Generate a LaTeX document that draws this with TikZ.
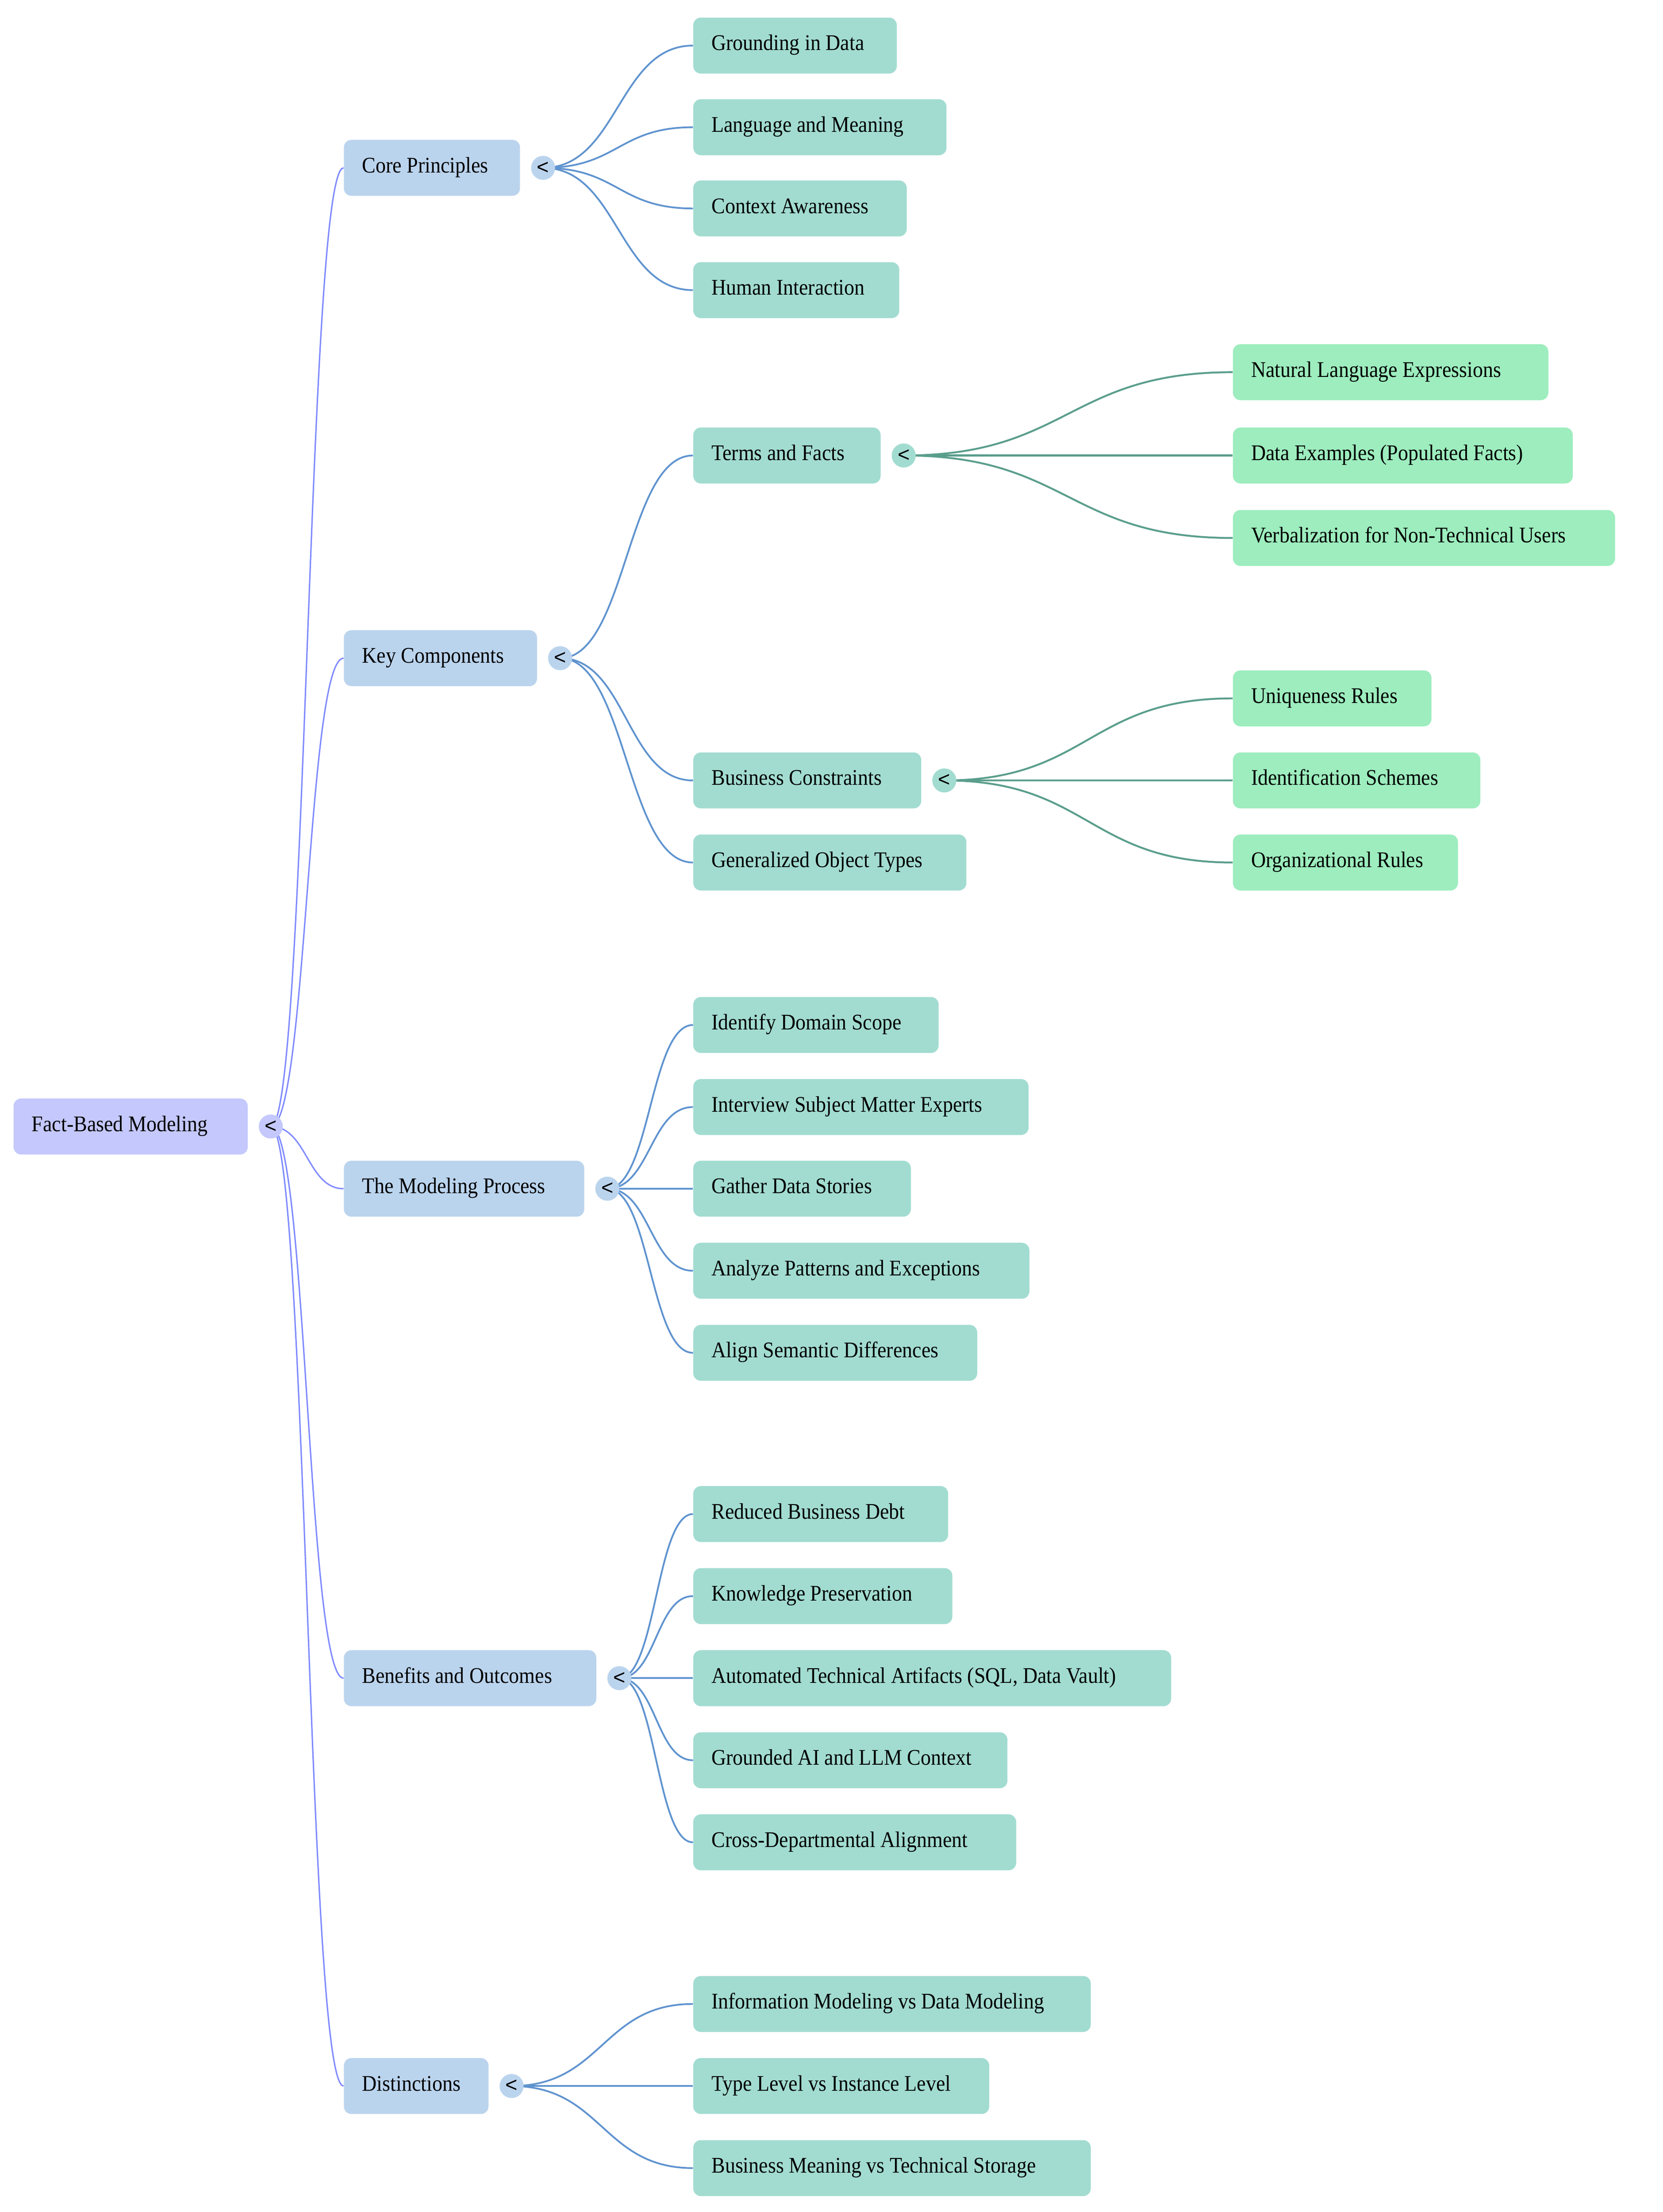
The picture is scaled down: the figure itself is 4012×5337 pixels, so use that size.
\documentclass[tikz,border=0pt]{standalone}
\usepackage{fontspec}
\setmainfont{Liberation Serif}[FakeStretch=0.91]
\newfontfamily\togfont{Liberation Sans}
\usetikzlibrary{calc,backgrounds}
\definecolor{c0}{HTML}{C4C8FC}
\definecolor{c1}{HTML}{BBD4EE}
\definecolor{c2}{HTML}{A2DCD1}
\definecolor{c3}{HTML}{9DEDBE}
\definecolor{ec0}{HTML}{7F8AFF}
\definecolor{ec1}{HTML}{5F93CF}
\definecolor{ec2}{HTML}{5A9E8C}
\newcommand\lbl[2]{\makebox[#1][l]{#2}}
\newcommand\conn[3]{\draw[#1] let \p1=(#2.center), \p2=(#3.west) in (\p1) .. controls ({0.5*\x1+0.5*\x2},\y1) and ({0.5*\x1+0.5*\x2},\y2) .. (\p2);}
\tikzset{x=0.3pt,y=-0.3pt,
  box/.style={rounded corners=5.5pt, inner xsep=13.2pt, inner ysep=0pt, minimum height=40.5pt,
    anchor=west, text height=11pt, text depth=4.1pt, font=\fontsize{16.2}{19}\selectfont},
  n0/.style={box, fill=c0}, n1/.style={box, fill=c1}, n2/.style={box, fill=c2}, n3/.style={box, fill=c3},
  tog/.style={circle, inner sep=0pt, minimum size=17.4pt, font=\togfont\fontsize{15}{15}\selectfont},
  e0/.style={draw=ec0, line width=1pt}, e1/.style={draw=ec1, line width=1.25pt}, e2/.style={draw=ec2, line width=1.35pt}}
\begin{document}
\begin{tikzpicture}
\useasboundingbox (0,0) rectangle (4012,5337);
% root
\node[n0] (root) at (32,2718) {\lbl{143.1pt}{Fact-Based Modeling}};
% level 1
\node[n1] (cp) at (829,405) {\lbl{101.1pt}{Core Principles}};
\node[n1] (kc) at (829,1588) {\lbl{113.4pt}{Key Components}};
\node[n1] (mp) at (829,2868) {\lbl{147.6pt}{The Modeling Process}};
\node[n1] (bo) at (829,4049) {\lbl{156.3pt}{Benefits and Outcomes}};
\node[n1] (di) at (829,5033) {\lbl{78.3pt}{Distinctions}};
% level 2
\node[n2] (cp1) at (1672,110) {\lbl{120.9pt}{Grounding in Data}};
\node[n2] (cp2) at (1672,307) {\lbl{156.9pt}{Language and Meaning}};
\node[n2] (cp3) at (1672,503) {\lbl{128.1pt}{Context Awareness}};
\node[n2] (cp4) at (1672,700) {\lbl{122.7pt}{Human Interaction}};
\node[n2] (tf) at (1672,1099) {\lbl{109.2pt}{Terms and Facts}};
\node[n2] (bc) at (1672,1883) {\lbl{138.6pt}{Business Constraints}};
\node[n2] (go) at (1672,2081) {\lbl{171.3pt}{Generalized Object Types}};
\node[n2] (mp1) at (1672,2473) {\lbl{151.2pt}{Identify Domain Scope}};
\node[n2] (mp2) at (1672,2671) {\lbl{216.3pt}{Interview Subject Matter Experts}};
\node[n2] (mp3) at (1672,2868) {\lbl{131.1pt}{Gather Data Stories}};
\node[n2] (mp4) at (1672,3066) {\lbl{216.9pt}{Analyze Patterns and Exceptions}};
\node[n2] (mp5) at (1672,3264) {\lbl{179.1pt}{Align Semantic Differences}};
\node[n2] (bo1) at (1672,3653) {\lbl{158.1pt}{Reduced Business Debt}};
\node[n2] (bo2) at (1672,3851) {\lbl{161.1pt}{Knowledge Preservation}};
\node[n2] (bo3) at (1672,4049) {\lbl{319.5pt}{Automated Technical Artifacts (SQL, Data Vault)}};
\node[n2] (bo4) at (1672,4247) {\lbl{201.0pt}{Grounded AI and LLM Context}};
\node[n2] (bo5) at (1672,4445) {\lbl{207.3pt}{Cross-Departmental Alignment}};
\node[n2] (di1) at (1672,4835) {\lbl{261.3pt}{Information Modeling vs Data Modeling}};
\node[n2] (di2) at (1672,5033) {\lbl{187.8pt}{Type Level vs Instance Level}};
\node[n2] (di3) at (1672,5231) {\lbl{261.3pt}{Business Meaning vs Technical Storage}};
% level 3
\node[n3] (tf1) at (2974,898) {\lbl{201.9pt}{Natural Language Expressions}};
\node[n3] (tf2) at (2974,1099) {\lbl{219.6pt}{Data Examples (Populated Facts)}};
\node[n3] (tf3) at (2974,1298) {\lbl{250.2pt}{Verbalization for Non-Technical Users}};
\node[n3] (bc1) at (2974,1685) {\lbl{117.3pt}{Uniqueness Rules}};
\node[n3] (bc2) at (2974,1883) {\lbl{152.7pt}{Identification Schemes}};
\node[n3] (bc3) at (2974,2081) {\lbl{136.5pt}{Organizational Rules}};
% collapse toggles
\node[tog, fill=c0] (rootT) at ($(root.east)+(16.5pt,0)$) {<};
\node[tog, fill=c1] (cpT) at ($(cp.east)+(16.5pt,0)$) {<};
\node[tog, fill=c1] (kcT) at ($(kc.east)+(16.5pt,0)$) {<};
\node[tog, fill=c1] (mpT) at ($(mp.east)+(16.5pt,0)$) {<};
\node[tog, fill=c1] (boT) at ($(bo.east)+(16.5pt,0)$) {<};
\node[tog, fill=c1] (diT) at ($(di.east)+(16.5pt,0)$) {<};
\node[tog, fill=c2] (tfT) at ($(tf.east)+(16.5pt,0)$) {<};
\node[tog, fill=c2] (bcT) at ($(bc.east)+(16.5pt,0)$) {<};
% connectors
\begin{pgfonlayer}{background}
\fill[white] (0,0) rectangle (4012,5337);
\conn{e0}{rootT}{cp}
\conn{e0}{rootT}{kc}
\conn{e0}{rootT}{mp}
\conn{e0}{rootT}{bo}
\conn{e0}{rootT}{di}
\conn{e1}{cpT}{cp1}
\conn{e1}{cpT}{cp2}
\conn{e1}{cpT}{cp3}
\conn{e1}{cpT}{cp4}
\conn{e1}{kcT}{tf}
\conn{e1}{kcT}{bc}
\conn{e1}{kcT}{go}
\conn{e1}{mpT}{mp1}
\conn{e1}{mpT}{mp2}
\conn{e1}{mpT}{mp3}
\conn{e1}{mpT}{mp4}
\conn{e1}{mpT}{mp5}
\conn{e1}{boT}{bo1}
\conn{e1}{boT}{bo2}
\conn{e1}{boT}{bo3}
\conn{e1}{boT}{bo4}
\conn{e1}{boT}{bo5}
\conn{e1}{diT}{di1}
\conn{e1}{diT}{di2}
\conn{e1}{diT}{di3}
\conn{e2}{tfT}{tf1}
\conn{e2}{tfT}{tf2}
\conn{e2}{tfT}{tf3}
\conn{e2}{bcT}{bc1}
\conn{e2}{bcT}{bc2}
\conn{e2}{bcT}{bc3}
\end{pgfonlayer}
\end{tikzpicture}
\end{document}
